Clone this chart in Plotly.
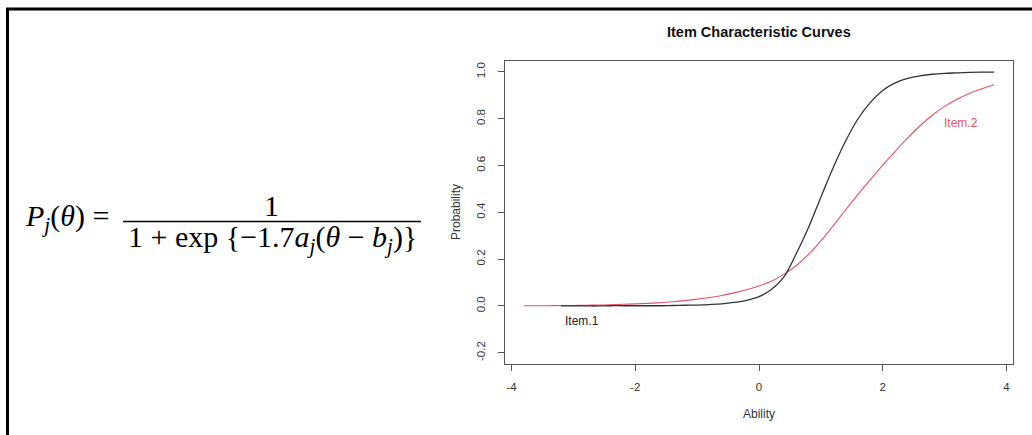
import plotly.graph_objects as go

# ---- data ----
theta_item2 = [-3.8, -3.6, -3.4, -3.2, -3.0, -2.8, -2.6, -2.4, -2.2, -2.0,
               -1.8, -1.6, -1.4, -1.2, -1.0, -0.8, -0.6, -0.4, -0.2, 0.0,
               0.2, 0.4, 0.6, 0.8, 1.0, 1.2, 1.4, 1.6, 1.8, 2.0,
               2.2, 2.4, 2.6, 2.8, 3.0, 3.2, 3.4, 3.6, 3.8]
prob_item2 = [0.001, 0.001, 0.001, 0.002, 0.002, 0.003, 0.004, 0.005, 0.007, 0.009,
              0.011, 0.014, 0.018, 0.023, 0.029, 0.036, 0.045, 0.056, 0.069, 0.085,
              0.106, 0.135, 0.172, 0.220, 0.278, 0.343, 0.411, 0.477, 0.540, 0.602,
              0.661, 0.717, 0.769, 0.815, 0.853, 0.883, 0.908, 0.928, 0.945]

theta_item1 = [-3.2, -3.0, -2.8, -2.6, -2.4, -2.2, -2.0, -1.8, -1.6, -1.4,
               -1.2, -1.0, -0.8, -0.6, -0.4, -0.2, 0.0, 0.2, 0.4, 0.6,
               0.8, 1.0, 1.2, 1.4, 1.6, 1.8, 2.0, 2.2, 2.4, 2.6,
               2.8, 3.0, 3.2, 3.4, 3.6, 3.8]
prob_item1 = [0.000, 0.000, 0.000, 0.000, 0.001, 0.001, 0.001, 0.001, 0.001, 0.002,
              0.003, 0.004, 0.006, 0.009, 0.015, 0.024, 0.040, 0.070, 0.123, 0.222,
              0.335, 0.465, 0.592, 0.705, 0.800, 0.870, 0.921, 0.953, 0.972, 0.983,
              0.990, 0.994, 0.996, 0.998, 0.999, 0.999]

x_ticks = [-4, -2, 0, 2, 4]
y_ticks = [-0.2, 0.0, 0.2, 0.4, 0.6, 0.8, 1.0]
y_tick_labels = ["-0.2", "0.0", "0.2", "0.4", "0.6", "0.8", "1.0"]

W, H = 1032, 435
def px(x):
    return x / W
def py(y):
    return 1 - y / H

AX = "#555555"
RED = "#DF536B"
FONT = "Liberation Sans, Arial, sans-serif"
SERIF = "Liberation Serif, Times New Roman, serif"

fig = go.Figure()
fig.add_trace(go.Scatter(x=theta_item2, y=prob_item2, mode="lines",
                         line=dict(color=RED, width=1.1, shape="spline"),
                         showlegend=False, hoverinfo="skip"))
fig.add_trace(go.Scatter(x=theta_item1, y=prob_item1, mode="lines",
                         line=dict(color="#333333", width=1.3, shape="spline"),
                         showlegend=False, hoverinfo="skip"))

fig.update_layout(
    width=W, height=H,
    margin=dict(l=0, r=0, t=0, b=0),
    paper_bgcolor="white", plot_bgcolor="white",
    showlegend=False,
    xaxis=dict(domain=[px(505), px(1013)], range=[-4.104, 4.104],
               tickvals=x_ticks, ticktext=[str(v) for v in x_ticks],
               showgrid=False, zeroline=False, showline=True, mirror=True,
               linecolor=AX, linewidth=1.3, ticks="outside", ticklen=6,
               tickcolor=AX, tickwidth=1.2, ticklabelstandoff=6,
               tickfont=dict(family=FONT, size=11.5, color="#333333")),
    yaxis=dict(domain=[py(364), py(60.7)], range=[-0.248, 1.048],
               tickvals=y_ticks, ticktext=y_tick_labels, tickangle=-90,
               showgrid=False, zeroline=False, showline=True, mirror=True,
               linecolor=AX, linewidth=1.3, ticks="outside", ticklen=6,
               tickcolor=AX, tickwidth=1.2, ticklabelstandoff=8,
               tickfont=dict(family=FONT, size=11.5, color="#333333")),
)

def note(text, x, y, size, color="#333333", family=FONT, xref="paper", yref="paper",
         angle=0, xanchor="center"):
    return dict(text=text, x=x, y=y, xref=xref, yref=yref, showarrow=False,
                xanchor=xanchor, yanchor="middle", textangle=angle,
                font=dict(family=family, size=size, color=color))

ann = [
    note("<b>Item Characteristic Curves</b>", px(759), py(32), 14.5, "#111111"),
    note("Ability", px(759), py(414), 12),
    note("Probability", px(456), py(212), 12, angle=-90),
    note("Item.1", -2.86, -0.066, 12, "#222222", xref="x", yref="y"),
    note("Item.2", 3.27, 0.783, 12, RED, xref="x", yref="y"),
    # formula
    note("<i>P</i><sub><i>j</i></sub>(<i>θ</i>) =", px(23), py(218), 30, "black",
         SERIF, xanchor="left"),
    note("1", px(271), py(205), 30, "black", SERIF),
    note("1 + exp {−1.7<i>a</i><sub><i>j</i></sub>(<i>θ</i> − <i>b</i><sub><i>j</i></sub>)}",
         px(272), py(239), 30, "black", SERIF),
]
fig.update_layout(annotations=ann)

shapes = [
    dict(type="line", xref="paper", yref="paper", x0=px(123), x1=px(421),
         y0=py(221.5), y1=py(221.5), line=dict(color="black", width=1.5)),
    dict(type="line", xref="paper", yref="paper", x0=px(6), x1=1,
         y0=py(9), y1=py(9), line=dict(color="black", width=3)),
    dict(type="line", xref="paper", yref="paper", x0=px(7.5), x1=px(7.5),
         y0=py(8), y1=0, line=dict(color="black", width=3)),
]
fig.update_layout(shapes=shapes)

fig.write_html("out.html", config={"displayModeBar": False},
               post_script="document.body.style.margin='0';document.body.style.padding='0';")
